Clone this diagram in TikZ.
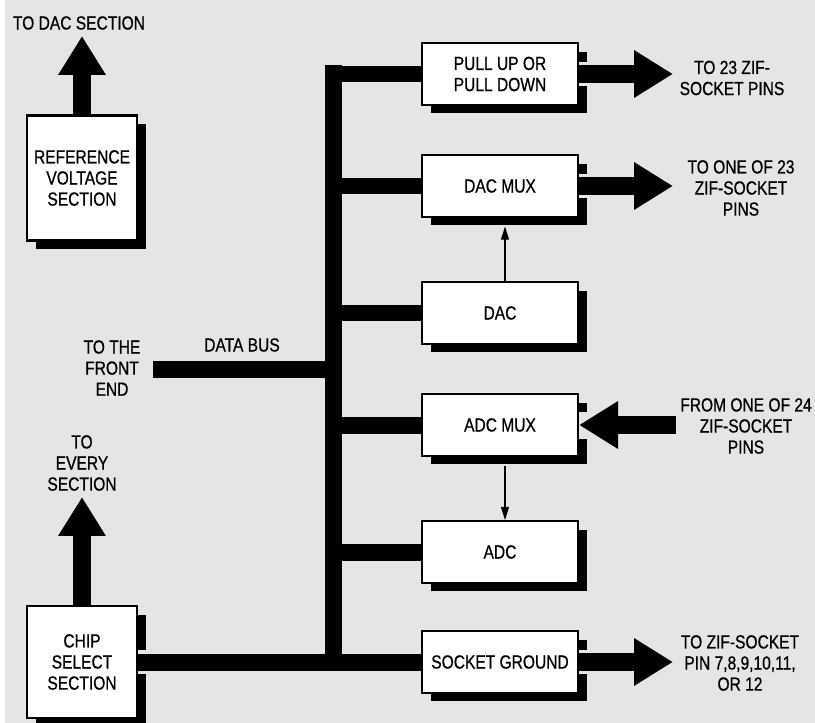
\documentclass[tikz,border=0pt]{standalone}
\usepackage{fontspec}
\setmainfont{Liberation Sans}[FakeStretch=0.82,FakeBold=0.7]
\usetikzlibrary{arrows.meta,shadows}

\def\busw{0.34cm}
\def\shaftw{0.36cm}
\def\boxw{3.12cm}
\def\boxh{1.24cm}
\definecolor{paper}{RGB}{229,229,229}
\newcommand{\lblfont}{\fontsize{10.8}{12}\selectfont}

\tikzset{
  blk/.style={draw,line width=1.2pt,fill=white,minimum width=\boxw,minimum height=\boxh,
    inner sep=0pt,align=center,font=\lblfont,
    drop shadow={shadow xshift=0.18cm,shadow yshift=-0.17cm,fill=black,opacity=1}},
  sect/.style={blk,minimum width=2.2cm},
  lbl/.style={align=center,inner sep=0pt,font=\lblfont},
  bus/.style={line width=\busw,line cap=butt},
  fat/.style={line width=\shaftw,-{Triangle[length=0.78cm,width=0.9cm]}},
  thinarr/.style={line width=0.6pt,-{Triangle[length=0.26cm,width=0.16cm]}},
  gap/.style={paper,line width=0.48cm},
}

\begin{document}
\begin{tikzpicture}[x=0.02cm,y=-0.02cm]
  \useasboundingbox (0,0) rectangle (815,723);
  \fill[white] (0,0) rectangle (815,723);
  \fill[paper] (5,0) rectangle (815,723);

  \node[lbl] (todac) at (79,23) {TO DAC SECTION};
  \node[sect,minimum height=2.5cm] (refv) at (82,178) {REFERENCE\\VOLTAGE\\SECTION};
  \node[lbl] (toevery) at (82,463) {TO\\EVERY\\SECTION};
  \node[sect,minimum height=2.24cm] (chip) at (82,662) {CHIP\\SELECT\\SECTION};
  \node[lbl] (frontend) at (112,368) {TO THE\\FRONT\\END};
  \node[lbl] (databus) at (242,345) {DATA BUS};

  \foreach \nm/\y/\txt in {pull/74/{PULL UP OR\\PULL DOWN}, dacmux/186/{DAC MUX}, dac/313/{DAC},
      adcmux/425/{ADC MUX}, adc/552/{ADC}, sockgnd/662/{SOCKET GROUND}}
    \node[blk] (\nm) at (500,\y) {\txt};

  \node[lbl] (pins23) at (732,78) {TO 23 ZIF-\\SOCKET PINS};
  \node[lbl] (one23) at (741,188) {TO ONE OF 23\\ZIF-SOCKET\\PINS};
  \node[lbl] (one24) at (746,426) {FROM ONE OF 24\\ZIF-SOCKET\\PINS};
  \node[lbl] (pin712) at (740,663) {TO ZIF-SOCKET\\PIN 7,8,9,10,11,\\OR 12};

  \coordinate (dactip) at (82,36);
  \coordinate (everytip) at (82,497);
  \coordinate (fe) at (153,369);
  \coordinate (bustop) at (333,65.5);
  \coordinate (busbot) at (333,670.5);
  \coordinate (pullout) at (673,74);
  \coordinate (dacmuxout) at (673,186);
  \coordinate (adcin) at (676,425);
  \coordinate (gndout) at (673,662);

  \foreach \nm in {pull,dacmux,sockgnd,chip}
    \draw[gap] (\nm.east) -- ++(14,0);
  \draw[gap,line width=0.54cm] (adcmux.east) -- ++(14,0);

  \draw[bus] (bustop) -- (busbot);
  \draw[bus] (fe) -- (fe -| bustop);
  \foreach \nm in {pull,dacmux,dac,adcmux,adc}
    \draw[bus] (bustop |- \nm.west) -- (\nm.west);
  \draw[bus] (chip.east) -- (sockgnd.west);

  \draw[fat] (refv.north) -- (dactip);
  \draw[fat] (chip.north) -- (everytip);
  \draw[fat] (pull.east) -- (pullout);
  \draw[fat] (dacmux.east) -- (dacmuxout);
  \draw[fat] (sockgnd.east) -- (gndout);
  \draw[fat] (adcin) -- (adcmux.east);

  \draw[thinarr] ([xshift=0.1cm]dac.north) -- ([xshift=0.1cm,yshift=-0.17cm]dacmux.south);
  \draw[thinarr] ([xshift=0.1cm,yshift=-0.17cm]adcmux.south) -- ([xshift=0.1cm]adc.north);
\end{tikzpicture}
\end{document}
